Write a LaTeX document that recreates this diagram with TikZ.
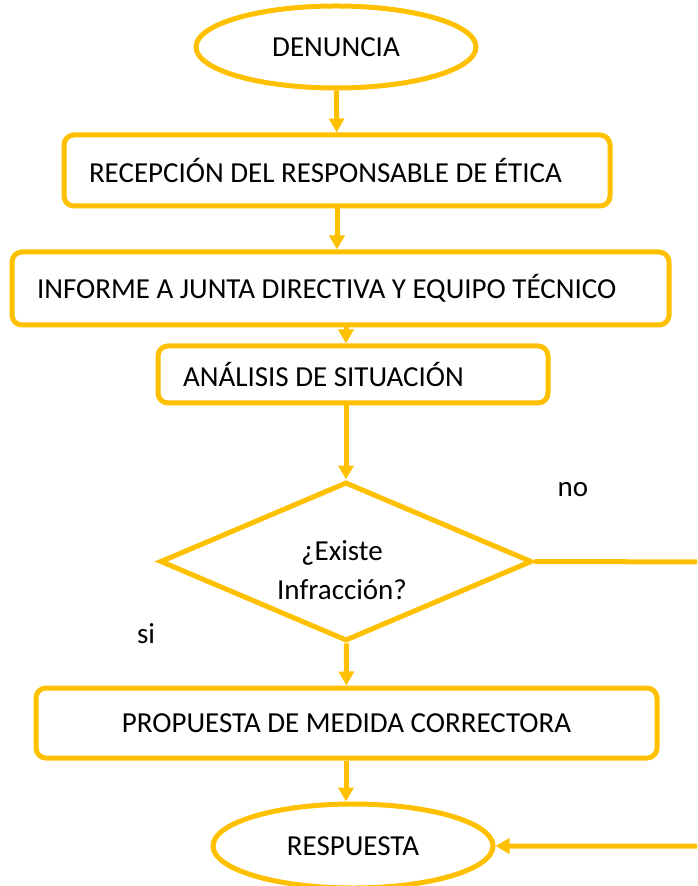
\documentclass[tikz,border=0pt]{standalone}
\usepackage{fontspec}
\setmainfont{Carlito}
\usetikzlibrary{arrows.meta,shapes.geometric,positioning}
\definecolor{linecolor}{RGB}{255,192,0}
\tikzset{
	paso/.style={
		rectangle,
		rounded corners=5pt,
		line width=2.5pt,
		draw=linecolor,
		fill=white,
		inner xsep=12.5pt,
		align=left,
		execute at begin node={\spaceskip=0.226em\relax}
	},
	inicio/.style={
		ellipse,
		line width=2.5pt,
		draw=linecolor,
		fill=white,
		inner sep=0pt,
		minimum width=140pt,
		minimum height=41pt
	},
	decision/.style={
		diamond,
		line width=2.5pt,
		draw=linecolor,
		fill=white,
		inner sep=0pt,
		minimum width=186pt,
		minimum height=79.5pt
	},
	flecha/.style={
		draw=linecolor,
		line width=2.5pt,
		-{Triangle[length=7pt,width=7.5pt]}
	},
}

\begin{document}
\begin{tikzpicture}[x=0.5pt,y=-0.5pt,font=\fontsize{14.5}{17}\selectfont]
	\useasboundingbox (0,0) rectangle (697,886);
	\clip (0,0) rectangle (697,886);
	\node[inicio] (denuncia) at (336,47) {DENUNCIA};
	\node[paso,minimum width=273pt,minimum height=35.5pt,text width=248pt] (recepcion) at (337,170.5) {RECEPCIÓN DEL RESPONSABLE DE ÉTICA};
	\node[paso,minimum width=328.5pt,minimum height=36.5pt,text width=303.5pt] (informe) at (340.5,288.5) {INFORME A JUNTA DIRECTIVA Y EQUIPO TÉCNICO};
	\node[paso,minimum width=195pt,minimum height=28.5pt,text width=170pt] (analisis) at (353,374.5) {ANÁLISIS DE SITUACIÓN};
	\node[decision] (existe) at (346,561.5) {};
	\node[align=center,font=\fontsize{14.5}{19.5}\selectfont] (pregunta) at (342,570) {¿Existe\\Infracción?};
	\node[paso,minimum width=310.5pt,minimum height=35pt,text width=285.5pt,align=center] (propuesta) at (346.5,723) {PROPUESTA DE MEDIDA CORRECTORA};
	\node[inicio,minimum height=42pt] (respuesta) at (353,846) {RESPUESTA};
	\node (no) at (573,490) {no};
	\node (si) at (146,634) {si};
	\coordinate (vuelta) at (720,562);
	\draw[flecha] (denuncia) -- (recepcion);
	\draw[flecha] (recepcion.south) -- (informe.north -| recepcion.south);
	\draw[flecha] (informe.south -| existe) -- (analisis.north -| existe);
	\draw[flecha] (analisis.south -| existe) -- (existe);
	\draw[flecha] (existe) -- (propuesta);
	\draw[flecha] (propuesta.south -| existe) -- (respuesta.north -| existe);
	\draw[flecha] (existe.east) -- (vuelta) |- (respuesta.east);
\end{tikzpicture}
\end{document}
